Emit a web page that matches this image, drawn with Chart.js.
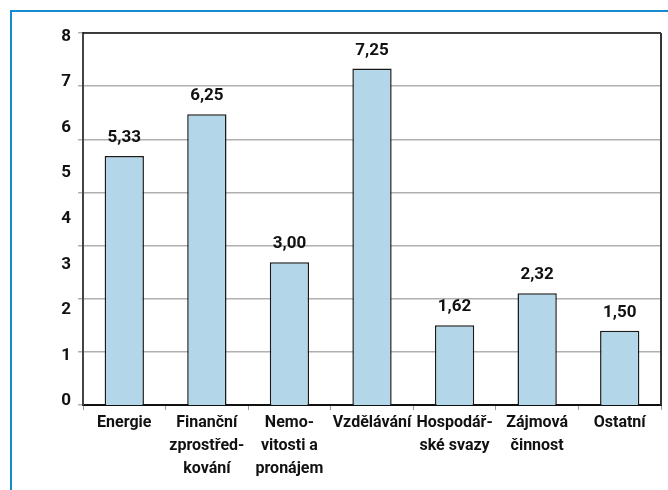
<!DOCTYPE html>
<html>
<head>
<meta charset="utf-8">
<script src="https://cdn.jsdelivr.net/npm/chart.js@4.4.1/dist/chart.umd.min.js"></script>
<style>
  html, body { margin: 0; padding: 0; background: #ffffff; }
  #wrap { position: relative; width: 668px; height: 490px; overflow: hidden; background: #fff; }
  #frame { position: absolute; left: 10px; top: 10px; width: 800px; height: 600px;
           border-top: 2px solid #168bd1; border-left: 2px solid #168bd1; }
  canvas { position: absolute; left: 0; top: 0; }
</style>
</head>
<body>
<div id="wrap">
  <div id="frame"></div>
  <canvas id="c" width="668" height="490"></canvas>
</div>
<script>
// ---- data ----
const categories = [
  ["Energie"],
  ["Finanční", "zprostřed-", "kování"],
  ["Nemo-", "vitosti a", "pronájem"],
  ["Vzdělávání"],
  ["Hospodář-", "ské svazy"],
  ["Zájmová", "činnost"],
  ["Ostatní"]
];
const values = [5.33, 6.25, 3.00, 7.25, 1.62, 2.32, 1.50];
const yTickLabels = [0, 1, 2, 3, 4, 5, 6, 7, 8];
const gridDivisions = [0, 1, 2, 3, 4, 5, 6, 7];

// ---- styles ----
const FONT = 'Roboto, "Liberation Sans Narrow", "DejaVu Sans Condensed", sans-serif';
const TEXT = '#111111';

const valueLabels = {
  id: 'valueLabels',
  afterDatasetsDraw(chart) {
    const ctx = chart.ctx;
    const meta = chart.getDatasetMeta(0);
    ctx.save();
    ctx.font = 'bold 17px ' + FONT;
    ctx.fillStyle = TEXT;
    ctx.textAlign = 'center';
    ctx.textBaseline = 'alphabetic';
    meta.data.forEach((bar, i) => {
      const txt = values[i].toFixed(2).replace('.', ',');
      ctx.fillText(txt, bar.x, bar.y - 14);
    });
    ctx.restore();
  }
};

const plotBorder = {
  id: 'plotBorder',
  afterDraw(chart) {
    const a = chart.chartArea;
    const ctx = chart.ctx;
    ctx.save();
    ctx.strokeStyle = '#111';
    ctx.lineWidth = 1.5;
    ctx.beginPath();
    ctx.moveTo(a.left, a.top);
    ctx.lineTo(a.right, a.top);
    ctx.stroke();
    ctx.strokeStyle = '#333';
    ctx.lineWidth = 2;
    ctx.beginPath();
    ctx.moveTo(a.right, a.top);
    ctx.lineTo(a.right, a.bottom);
    ctx.stroke();
    ctx.restore();
  }
};

new Chart(document.getElementById('c'), {
  type: 'bar',
  data: {
    labels: categories,
    datasets: [{
      data: values,
      yAxisID: 'y',
      base: -0.13,
      backgroundColor: '#b3d7e9',
      borderColor: '#1a1a1a',
      borderWidth: 1.5,
      barPercentage: 0.476,
      categoryPercentage: 1.0
    }]
  },
  options: {
    responsive: false,
    animation: false,
    devicePixelRatio: 1,
    layout: { padding: { top: 33, right: 7, bottom: 0, left: 0 } },
    plugins: { legend: { display: false }, tooltip: { enabled: false } },
    scales: {
      x: {
        type: 'category',
        offset: true,
        grid: { offset: true, drawOnChartArea: false, drawTicks: true, tickLength: 5, color: '#999', lineWidth: 1 },
        border: { color: '#111', width: 2 },
        ticks: {
          color: TEXT, padding: 2, maxRotation: 0, autoSkip: false,
          font: { family: FONT, size: 16, weight: 'bold', lineHeight: 1.43 }
        },
        afterFit(s) { s.height = 85; }
      },
      yGrid: {
        type: 'linear',
        position: 'left',
        weight: 0,
        min: 0,
        max: 7,
        afterBuildTicks(axis) { axis.ticks = gridDivisions.map(v => ({ value: v })); },
        grid: { color: '#b0b0b0', lineWidth: 1.5, tickLength: 5, drawTicks: true },
        border: { color: '#444', width: 2 },
        ticks: { display: false },
        afterFit(s) { s.width = 5; }
      },
      y: {
        type: 'linear',
        position: 'left',
        weight: 1,
        min: -0.13,
        max: 8.03,
        afterBuildTicks(axis) { axis.ticks = yTickLabels.map(v => ({ value: v })); },
        grid: { display: false, drawTicks: false },
        border: { display: false },
        ticks: {
          color: TEXT, padding: 7, labelOffset: 2,
          font: { family: FONT, size: 17, weight: 'bold' },
          callback: (v) => String(v)
        },
        afterFit(s) { s.width = 78; }
      }
    }
  },
  plugins: [valueLabels, plotBorder]
});
</script>
</body>
</html>
